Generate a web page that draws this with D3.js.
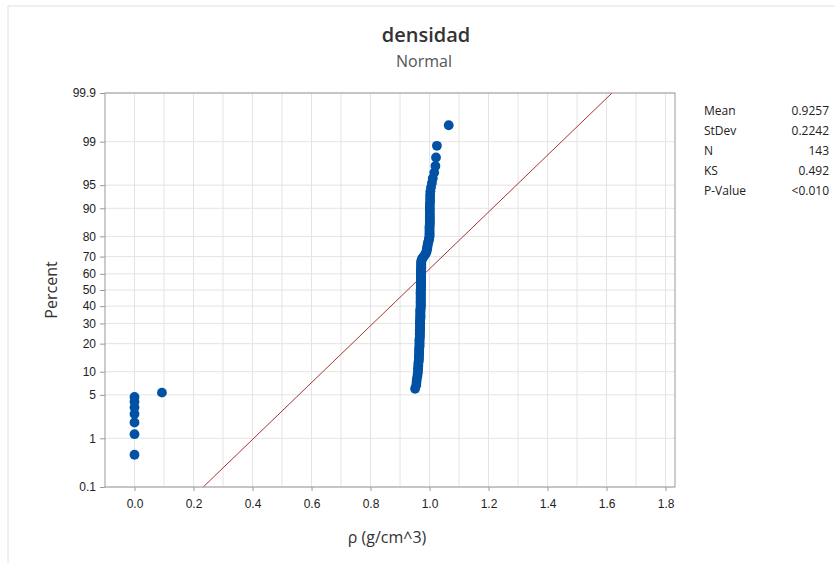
<!DOCTYPE html>
<html>
<head>
<meta charset="utf-8">
<script src="https://d3js.org/d3.v7.min.js"></script>
<style>
  body { margin: 0; background: #fff; }
  svg { font-family: "Open Sans", "DejaVu Sans", sans-serif; }
  .grid line { stroke: #e4e4e4; stroke-width: 1; }
  .axis path, .axis line { stroke: #9a9a9a; }
  .axis text { fill: #222; font-size: 12px; }
</style>
</head>
<body>
<script>
// sorted sample values (143)
var zeros = [0, 0, 0, 0, 0, 0, 0];
var lowOutlier = [0.093];
var mainCluster = [
  0.951, 0.955, 0.956, 0.957, 0.959, 0.960, 0.961, 0.961, 0.962, 0.962, 0.963,
  0.964, 0.964, 0.964, 0.965, 0.965, 0.965, 0.965, 0.966, 0.966, 0.966, 0.966,
  0.966, 0.966, 0.967, 0.967, 0.967, 0.967, 0.967, 0.967, 0.968, 0.968, 0.968,
  0.968, 0.968, 0.968, 0.968, 0.968, 0.969, 0.969, 0.969, 0.969, 0.969, 0.969,
  0.969, 0.969, 0.969, 0.970, 0.970, 0.970, 0.970, 0.970, 0.970, 0.970, 0.970,
  0.970, 0.970, 0.970, 0.970, 0.970, 0.970, 0.970, 0.970, 0.970, 0.971, 0.971,
  0.971, 0.971, 0.971, 0.971, 0.971, 0.971, 0.971, 0.971, 0.971, 0.971, 0.971,
  0.971, 0.971, 0.971, 0.971, 0.971, 0.972, 0.972, 0.972, 0.972, 0.972, 0.972,
  0.972, 0.973, 0.975, 0.978, 0.981, 0.984, 0.987, 0.989, 0.990, 0.991, 0.992,
  0.993, 0.993, 0.994, 0.995, 0.997, 0.998, 0.999, 1.000, 1.000, 1.000, 1.000,
  1.000, 1.000, 1.000, 1.001, 1.001, 1.001, 1.001, 1.001, 1.001, 1.001, 1.001,
  1.001, 1.001, 1.002, 1.002, 1.002, 1.003, 1.005, 1.008, 1.011, 1.016, 1.020,
  1.022, 1.025, 1.065
];
var values = zeros.concat(lowOutlier, mainCluster);

var fitMean = 0.9257, fitSd = 0.2242;
var statLabels = ["Mean", "StDev", "N", "KS", "P-Value"];
var statValues = ["0.9257", "0.2242", "143", "0.492", "<0.010"];

var percentTicks = [0.1, 1, 5, 10, 20, 30, 40, 50, 60, 70, 80, 90, 95, 99, 99.9];
var xTicks = [0, 0.2, 0.4, 0.6, 0.8, 1.0, 1.2, 1.4, 1.6, 1.8];
var xGrid = d3.range(0, 19).map(function(i){ return i / 10; });

// inverse normal cdf (Acklam)
function probit(p) {
  var a = [-3.969683028665376e+01, 2.209460984245205e+02, -2.759285104469687e+02,
           1.383577518672690e+02, -3.066479806614716e+01, 2.506628277459239e+00];
  var b = [-5.447609879822406e+01, 1.615858368580409e+02, -1.556989798598866e+02,
           6.680131188771972e+01, -1.328068155288572e+01];
  var c = [-7.784894002430293e-03, -3.223964580411365e-01, -2.400758277161838e+00,
           -2.549732539343734e+00, 4.374664141464968e+00, 2.938163982698783e+00];
  var d = [7.784695709041462e-03, 3.224671290700398e-01, 2.445134137142996e+00,
           3.754408661907416e+00];
  var pl = 0.02425, q, r;
  if (p < pl) {
    q = Math.sqrt(-2 * Math.log(p));
    return (((((c[0]*q+c[1])*q+c[2])*q+c[3])*q+c[4])*q+c[5]) /
           ((((d[0]*q+d[1])*q+d[2])*q+d[3])*q+1);
  }
  if (p > 1 - pl) {
    q = Math.sqrt(-2 * Math.log(1 - p));
    return -(((((c[0]*q+c[1])*q+c[2])*q+c[3])*q+c[4])*q+c[5]) /
            ((((d[0]*q+d[1])*q+d[2])*q+d[3])*q+1);
  }
  q = p - 0.5; r = q * q;
  return (((((a[0]*r+a[1])*r+a[2])*r+a[3])*r+a[4])*r+a[5])*q /
         (((((b[0]*r+b[1])*r+b[2])*r+b[3])*r+b[4])*r+1);
}

var width = 835, height = 563;
var plotL = 105, plotR = 675, plotT = 93, plotB = 487;

var svg = d3.select("body").append("svg")
  .attr("width", width)
  .attr("height", height);

// light frame around the figure
svg.append("path")
  .attr("d", "M8,6H835M8,6V563")
  .attr("fill", "none")
  .attr("stroke", "#e0e0e0");

var x = d3.scaleLinear().domain([-0.1, 1.832]).range([plotL, plotR]);
var zMax = probit(0.999);
var y = d3.scaleLinear().domain([-zMax, zMax]).range([plotB, plotT]);
function yp(pct) { return y(probit(pct / 100)); }

var grid = svg.append("g").attr("class", "grid");
grid.selectAll(".v").data(xGrid).enter().append("line")
  .attr("x1", function(d){ return x(d); }).attr("x2", function(d){ return x(d); })
  .attr("y1", plotT).attr("y2", plotB);
grid.selectAll(".h").data(percentTicks).enter().append("line")
  .attr("x1", plotL).attr("x2", plotR)
  .attr("y1", function(d){ return yp(d); }).attr("y2", function(d){ return yp(d); });

// fitted normal line
var lineData = [0.1, 99.9];
var fit = d3.line()
  .x(function(d){ return x(fitMean + fitSd * probit(d / 100)); })
  .y(function(d){ return yp(d); });
svg.append("path")
  .datum(lineData)
  .attr("d", fit)
  .attr("fill", "none")
  .attr("stroke", "#a8342e")
  .attr("stroke-width", 1);

// plot frame
svg.append("rect")
  .attr("x", plotL).attr("y", plotT)
  .attr("width", plotR - plotL).attr("height", plotB - plotT)
  .attr("fill", "none").attr("stroke", "#9a9a9a");

var xAxis = svg.append("g").attr("class", "axis")
  .attr("transform", "translate(0," + plotB + ")")
  .call(d3.axisBottom(x).tickValues(xTicks).tickSize(4).tickPadding(8)
    .tickFormat(d3.format(".1f")));
xAxis.select(".domain").remove();

var yAxis = svg.append("g").attr("class", "axis")
  .attr("transform", "translate(" + plotL + ",0)")
  .call(d3.axisLeft(y).tickValues(percentTicks.map(function(p){ return probit(p / 100); }))
    .tickSize(5).tickPadding(4)
    .tickFormat(function(d, i){ return percentTicks[i]; }));
yAxis.select(".domain").remove();

// points, median rank plotting positions
var n = values.length;
svg.append("g").selectAll("circle")
  .data(values).enter().append("circle")
  .attr("cx", function(d){ return x(d); })
  .attr("cy", function(d, i){ return yp(100 * (i + 1 - 0.3) / (n + 0.4)); })
  .attr("r", 4.9)
  .attr("fill", "#0152a4");

// titles
svg.append("text").attr("x", 426).attr("y", 42)
  .attr("text-anchor", "middle").attr("font-size", 20).attr("font-weight", 600)
  .attr("fill", "#333").text("densidad");
svg.append("text").attr("x", 424).attr("y", 67)
  .attr("text-anchor", "middle").attr("font-size", 16)
  .attr("fill", "#555").text("Normal");

svg.append("text").attr("x", 387).attr("y", 543)
  .attr("text-anchor", "middle").attr("font-size", 16)
  .attr("fill", "#333").text("ρ (g/cm^3)");
svg.append("text")
  .attr("transform", "translate(57,290) rotate(-90)")
  .attr("text-anchor", "middle").attr("font-size", 16)
  .attr("fill", "#333").text("Percent");

// stats table
var stats = svg.append("g").attr("font-size", 12).attr("fill", "#222");
stats.selectAll(".lab").data(statLabels).enter().append("text")
  .attr("x", 704).attr("y", function(d, i){ return 115 + i * 20; })
  .text(function(d){ return d; });
stats.selectAll(".val").data(statValues).enter().append("text")
  .attr("x", 829).attr("y", function(d, i){ return 115 + i * 20; })
  .attr("text-anchor", "end")
  .text(function(d){ return d; });
</script>
</body>
</html>
